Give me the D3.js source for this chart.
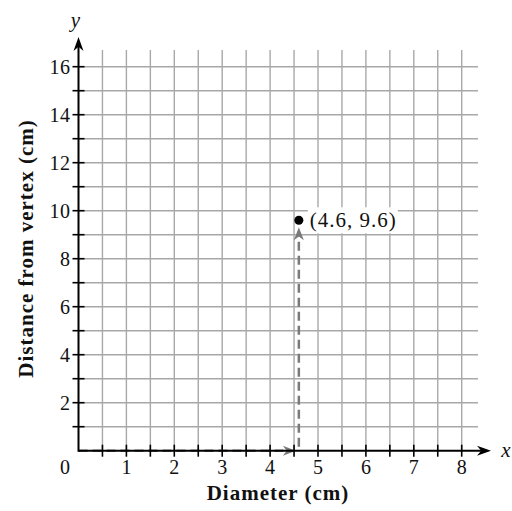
<!DOCTYPE html>
<html><head><meta charset="utf-8">
<script src="https://cdn.jsdelivr.net/npm/d3@7"></script>
<style>body{margin:0;background:#fff}svg{display:block}text{font-family:"Liberation Serif","DejaVu Serif",serif;fill:#111}</style>
</head><body>
<script>
const xTicks = [1,2,3,4,5,6,7,8];
const yTicks = [2,4,6,8,10,12,14,16];
const xGrid = [0.5,1,1.5,2,2.5,3,3.5,4,4.5,5,5.5,6,6.5,7,7.5,8];
const yGrid = [1,2,3,4,5,6,7,8,9,10,11,12,13,14,15,16];
const point = {x:4.6, y:9.6, label:"(4.6, 9.6)"};
const xLabel = "Diameter (cm)", yLabel = "Distance from vertex (cm)";

const W=512,H=511;
const svg=d3.select("body").append("svg").attr("width",W).attr("height",H);
const x=d3.scaleLinear().domain([0,8]).range([78.5,461.7]);
const y=d3.scaleLinear().domain([0,16]).range([450.7,66.7]);
const gridTop=50, gridRight=478;

// grid
svg.append("g").selectAll("line").data(xGrid).join("line")
  .attr("x1",d=>x(d)).attr("x2",d=>x(d)).attr("y1",y(0)).attr("y2",gridTop)
  .attr("stroke","#a8a8a8").attr("stroke-width",1.4);
svg.append("g").selectAll("line").data(yGrid).join("line")
  .attr("y1",d=>y(d)).attr("y2",d=>y(d)).attr("x1",x(0)).attr("x2",gridRight)
  .attr("stroke","#a8a8a8").attr("stroke-width",1.4);

function arrowHead(tx,ty,dir,color,len,wid){
  const c=Math.cos(dir),s=Math.sin(dir);
  const p=(a,b)=>[tx+a*c-b*s, ty+a*s+b*c];
  const pts=[p(0,0),p(-len,-wid/2),p(-len*0.7,0),p(-len,wid/2)];
  svg.append("path").attr("d","M"+pts.map(q=>q.join(",")).join("L")+"Z").attr("fill",color);
}

// dashed guides
const gc="#7a7a7a";
svg.append("line").attr("x1",x(0)).attr("x2",x(point.x)-10).attr("y1",y(0)).attr("y2",y(0))
  .attr("stroke",gc).attr("stroke-width",2.5).attr("stroke-dasharray","9,5");
arrowHead(x(point.x)-3,y(0),0,gc,13,10);
svg.append("line").attr("x1",x(point.x)).attr("x2",x(point.x)).attr("y1",y(0)-4).attr("y2",y(point.y)+14)
  .attr("stroke",gc).attr("stroke-width",2.5).attr("stroke-dasharray","9,5");
arrowHead(x(point.x),y(point.y)+7,-Math.PI/2,gc,13,10);

// axes
svg.append("line").attr("x1",x(0)).attr("x2",486).attr("y1",y(0)).attr("y2",y(0)).attr("stroke","#000").attr("stroke-width",2);
arrowHead(491,y(0),0,"#000",14,10);
svg.append("line").attr("x1",x(0)).attr("x2",x(0)).attr("y1",y(0)+1).attr("y2",42).attr("stroke","#000").attr("stroke-width",2);
arrowHead(x(0),37,-Math.PI/2,"#000",14,10);

// ticks
svg.append("g").selectAll("line").data(xGrid).join("line")
  .attr("x1",d=>x(d)).attr("x2",d=>x(d)).attr("y1",y(0)-6).attr("y2",y(0)+6).attr("stroke","#000").attr("stroke-width",1.6);
svg.append("g").selectAll("line").data(yGrid).join("line")
  .attr("y1",d=>y(d)).attr("y2",d=>y(d)).attr("x1",x(0)-6).attr("x2",x(0)+6).attr("stroke","#000").attr("stroke-width",1.6);

// tick labels
svg.append("g").selectAll("text").data(xTicks).join("text")
  .attr("x",d=>x(d)).attr("y",y(0)+23.5).attr("text-anchor","middle").attr("font-size",20).text(d=>d);
svg.append("g").selectAll("text").data(yTicks).join("text")
  .attr("x",x(0)-8).attr("y",d=>y(d)+7.5).attr("text-anchor","end").attr("font-size",20).attr("letter-spacing",0.5).text(d=>d);
svg.append("text").attr("x",x(0)-8.5).attr("y",y(0)+23.5).attr("text-anchor","end").attr("font-size",20).text("0");

// axis letters
svg.append("text").attr("x",x(0)-3).attr("y",27).attr("text-anchor","middle").attr("font-size",21).attr("font-style","italic").text("y");
svg.append("text").attr("x",506).attr("y",y(0)+6).attr("text-anchor","middle").attr("font-size",21).attr("font-style","italic").text("x");

// axis titles
svg.append("text").attr("x",278).attr("y",500).attr("text-anchor","middle").attr("font-size",21).attr("letter-spacing",1).attr("font-weight","bold").text(xLabel);
svg.append("text").attr("transform","translate(33,248.5) rotate(-90)").attr("text-anchor","middle").attr("font-size",21).attr("letter-spacing",1).attr("font-weight","bold").text(yLabel);

// point + label
const lbl=svg.append("text").attr("x",x(point.x)+11).attr("y",y(point.y)+7).attr("font-size",21).attr("letter-spacing",1).text(point.label);
const bb=lbl.node().getBBox();
svg.insert("rect",()=>lbl.node()).attr("x",bb.x-2).attr("y",bb.y-1).attr("width",bb.width+3).attr("height",bb.height+2).attr("fill","#fff");
svg.append("circle").attr("cx",x(point.x)).attr("cy",y(point.y)).attr("r",4.5).attr("fill","#000");
</script>
</body></html>
